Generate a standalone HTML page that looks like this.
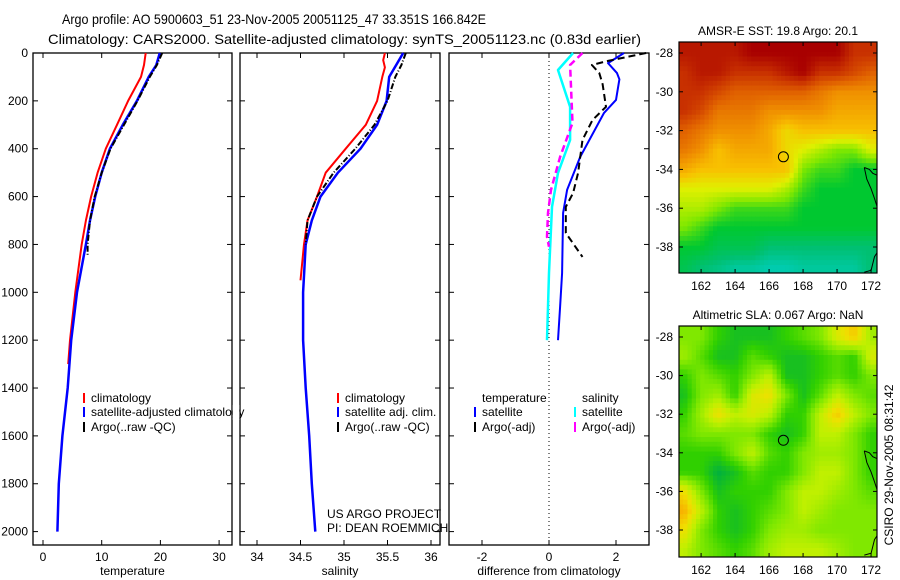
<!DOCTYPE html>
<html><head><meta charset="utf-8"><style>
body{margin:0;background:#fff;}
svg{display:block;font-family:"Liberation Sans",sans-serif;}
text{fill:#000;}
</style></head><body>
<svg id="fig" width="900" height="580" viewBox="0 0 900 580">
<text x="62" y="24" font-size="14" textLength="424" lengthAdjust="spacingAndGlyphs">Argo profile: AO 5900603_51 23-Nov-2005 20051125_47 33.351S 166.842E</text>
<text x="48" y="44" font-size="14" textLength="593" lengthAdjust="spacingAndGlyphs">Climatology: CARS2000. Satellite-adjusted climatology: synTS_20051123.nc (0.83d earlier)</text>
<g id="g"></g>
</svg>
<script>
// ---- profile data ----
const tempClimDepth=[0,50,100,200,300,400,500,600,700,800,1000,1200,1300];
const tempClim=[17.5,17.2,16.7,14.5,12.6,10.7,9.3,8.2,7.3,6.6,5.5,4.6,4.3];
const tempSatDepth=[0,50,100,200,300,400,500,600,700,800,1000,1200,1400,1600,1800,2000];
const tempSat=[19.9,19.3,18.0,16.0,13.6,11.4,10.0,8.9,8.0,7.3,5.8,4.8,4.2,3.3,2.7,2.45];
const tempArgoDepth=[0,50,100,200,300,400,500,600,700,800,850];
const tempArgo=[20.3,19.4,18.2,16.1,13.8,11.5,10.0,8.8,8.0,7.6,7.6];
const salClimDepth=[0,30,60,100,200,300,400,500,600,700,800,950];
const salClim=[35.47,35.45,35.47,35.44,35.38,35.25,35.02,34.79,34.69,34.58,34.54,34.5];
const salSatDepth=[0,50,100,200,300,400,500,600,700,800,1000,1200,1400,1600,1800,2000];
const salSat=[35.68,35.6,35.52,35.49,35.38,35.19,34.93,34.73,34.63,34.56,34.53,34.53,34.56,34.6,34.63,34.67];
const salArgoDepth=[0,50,100,200,300,400,500,600,700,800];
const salArgo=[35.71,35.66,35.59,35.5,35.35,35.13,34.88,34.69,34.58,34.56];
const dTSatDepth=[0,42,84,110,196,251,434,572,668,919,1060,1200];
const dTSat=[2.24,1.76,2.03,2.1,2.0,1.64,0.93,0.54,0.42,0.39,0.33,0.27];
const dSSatDepth=[0,71,225,363,501,643,919,1200];
const dSSat=[0.72,0.27,0.63,0.63,0.27,0.09,0.0,-0.06];
const dSArgoDepth=[0,50,292,434,572,668,768,810];
const dSArgo=[1.0,0.63,0.7,0.33,0.06,-0.03,-0.06,0];
const dTArgoDepth=[0,33,50,84,130,225,280,363,501,585,643,752,852];
const dTArgo=[2.9,1.76,1.28,1.5,1.6,1.7,1.3,1.0,0.87,0.72,0.5,0.5,1.0];
const depthTicks=[0,200,400,600,800,1000,1200,1400,1600,1800,2000];
const tempTicks=[0,10,20,30];
const salTicks=[34,34.5,35,35.5,36];
const diffTicks=[-2,0,2];
// ---- map data (rows lat -28..-39, cols lon 161..172) ----
const mapLons=[161,162,163,164,165,166,167,168,169,170,171,172];
const mapLats=[-28,-29,-30,-31,-32,-33,-34,-35,-36,-37,-38,-39];
const sstGrid=[
[8.5,8.5,8.5,8.5,9,9,9,9,9,9,8,8],
[8,8.5,8.5,8,8,8,8.5,9,8,8,7.5,7],
[8,8,7.5,7,7,7,7,7,6.5,6,6,6],
[8,7.5,6.5,6.5,6.5,6,6,6,6,5.5,5.5,5.5],
[7,6.5,6,6,6,5.5,4.5,5,5,5,5,5],
[6.5,6,5,5.5,5.5,5.5,4.5,4,3.5,3,3,4],
[5.5,5,5,5,5,5,5,3,2.5,2.5,2,2],
[4,4,4,4,4,4,3.5,2.5,2,2,2,2],
[3.5,3.5,3,2.5,2.5,2.5,2.5,2,2,2,2,2],
[3,2.5,2,2,2,2,2,2,2,2,2,2],
[2,2,1.5,1.5,1.5,1,1,1,1,1,1,1],
[1.5,1,0.8,0.5,0.5,0.3,0.3,0.5,0.5,0.5,0.5,1]];
const slaGrid=[
[2,2,1,0.5,0.5,0.5,1,1.5,2,3.5,4.5,2.5],
[2.5,1.5,0.5,0.5,1.5,1,0.5,0.5,1,1.5,1,3.5],
[1,2,1.5,1,2,3,0.5,0.5,1,1.5,1,2],
[0.5,2,2.5,1,3.5,4,2,0.5,1.5,3,2,1.5],
[1,2.5,4,3,3.5,3,1,1,3,4.5,3,2],
[1.5,2,2,2,2,1,0.5,1,3,3,2,1],
[1,1,1,2,3,1.5,1,2,2.5,2.5,2,1],
[1,1,0,0.5,1.5,1,1,2,3,3,2,1],
[4,2,0.5,1,1,1,2,3,3,2.5,2,1.5],
[5,3,1,0.5,1,1.5,2,3,2.5,2,2,2],
[4,2,1,0.5,1,2,2.5,2.5,2,2,2,2],
[3,2,1.5,1,1.5,2.5,3,3,3,2.5,2,2]];
const lonTicks=[162,164,166,168,170,172];
const latTicks=[-28,-30,-32,-34,-36,-38];
const floatLon=166.842, floatLat=-33.351;

const NS='http://www.w3.org/2000/svg';
const G=document.getElementById('g');
function mk(tag,attrs,parent){const e=document.createElementNS(NS,tag);for(const k in attrs)e.setAttribute(k,attrs[k]);(parent||G).appendChild(e);return e;}
function txt(x,y,s,size,anchor,parent){const t=mk('text',{x:x,y:y,'font-size':size||12,'text-anchor':anchor||'start'},parent);t.textContent=s;return t;}

const yTop=53, yBot=545;
const yD=d=>53+d*0.2393;
const panels=[
 {name:'temperature-panel',x0:33,x1:232,sx:v=>43+v*5.87,ticks:tempTicks,label:'temperature'},
 {name:'salinity-panel',x0:240,x1:440,sx:v=>257+(v-34)*87,ticks:salTicks,label:'salinity'},
 {name:'difference-panel',x0:449,x1:649,sx:v=>549+v*33.5,ticks:diffTicks,label:'difference from climatology'}];

panels.forEach((p,i)=>{
  const g=mk('g',{});
  
  
  const r=mk('rect',{x:p.x0,y:yTop,width:p.x1-p.x0,height:yBot-yTop,fill:'none',stroke:'#000','stroke-width':1.3},g);
  
  
  p.ticks.forEach(v=>{
    const x=p.sx(v);
    mk('line',{x1:x,y1:yBot,x2:x,y2:yBot-5,stroke:'#000'},g);
    mk('line',{x1:x,y1:yTop,x2:x,y2:yTop+5,stroke:'#000'},g);
    const t=txt(x,561,String(v),12,'middle',g);
    
    
  });
  depthTicks.forEach(d=>{
    const y=yD(d);
    mk('line',{x1:p.x0,y1:y,x2:p.x0+5,y2:y,stroke:'#000'},g);
    mk('line',{x1:p.x1,y1:y,x2:p.x1-5,y2:y,stroke:'#000'},g);
    if(i===0){const t=txt(28,y+4,String(d),12,'end',g);
      
      }
  });
  const xl=txt((p.x0+p.x1)/2,575,p.label,12,'middle',g);
  
  
});
function line(p,vals,depths,color,w,dash,name){
  const pts=vals.map((v,i)=>panels[p].sx(v).toFixed(1)+','+yD(depths[i]).toFixed(1)).join(' ');
  const e=mk('polyline',{points:pts,fill:'none',stroke:color,'stroke-width':w,'stroke-linejoin':'round'});
  if(dash)e.setAttribute('stroke-dasharray',dash);
  
  
}
const zl=mk('line',{x1:549,y1:yTop,x2:549,y2:yBot,stroke:'#000','stroke-dasharray':'1,3'});


line(0,tempClim,tempClimDepth,'#f00',2,null,'temp-climatology-line');
line(0,tempSat,tempSatDepth,'#00f',2.5,null,'temp-satellite-line');
line(0,tempArgo,tempArgoDepth,'#000',2,'6,2,1,2','temp-argo-line');
line(1,salClim,salClimDepth,'#f00',2,null,'sal-climatology-line');
line(1,salSat,salSatDepth,'#00f',2.5,null,'sal-satellite-line');
line(1,salArgo,salArgoDepth,'#000',2,'6,2,1,2','sal-argo-line');
line(2,dSSat,dSSatDepth,'#0ff',2.5,null,'diff-sal-satellite-line');
line(2,dSArgo,dSArgoDepth,'#f0f',2.5,'7,4','diff-sal-argo-line');
line(2,dTSat,dTSatDepth,'#00f',2,null,'diff-temp-satellite-line');
line(2,dTArgo,dTArgoDepth,'#000',2,'7,4','diff-temp-argo-line');

function legend(x,y,color,label,name){
  const g=mk('g',{});
  
  
  if(color)mk('line',{x1:x,y1:y-9,x2:x,y2:y+1,stroke:color,'stroke-width':2},g);
  txt(x+7,y,label,12,'start',g);
}
legend(84,402,'#f00','climatology','legend-temp-climatology');
legend(84,416,'#00f','satellite-adjusted climatology','legend-temp-satellite');
legend(84,431,'#000','Argo(..raw -QC)','legend-temp-argo');
legend(338,402,'#f00','climatology','legend-sal-climatology');
legend(338,416,'#00f','satellite adj. clim.','legend-sal-satellite');
legend(338,431,'#000','Argo(..raw -QC)','legend-sal-argo');
legend(475,402,null,'temperature','legend-temp-header');
legend(575,402,null,'salinity','legend-sal-header');
legend(475,416,'#00f','satellite','legend-diff-temp-satellite');
legend(575,416,'#0ff','satellite','legend-diff-sal-satellite');
legend(475,431,'#000','Argo(-adj)','legend-diff-temp-argo');
legend(575,431,'#f0f','Argo(-adj)','legend-diff-sal-argo');
const cv=mk('rect',{x:232.7,y:405,width:6.6,height:15,fill:'#fff'});


const c1=txt(327,518,'US ARGO PROJECT',12);


const c2=txt(327,532,'PI: DEAN ROEMMICH',12);



// ---- maps ----
const sstStops=['#00d0c8','#00c070','#00c830','#80e800','#e0f000','#f8c000','#f09000','#e06000','#c83000','#a80000'];
const slaStops=['#00b040','#30d000','#80e800','#c0f000','#f0e000','#f8b000'];
function hex(c){return [1,3,5].map(i=>parseInt(c.substr(i,2),16));}
function cmap(stops,v){v=Math.max(0,Math.min(stops.length-1,v));const i=Math.min(stops.length-2,Math.floor(v)),f=v-i;
  const a=hex(stops[i]),b=hex(stops[i+1]);return 'rgb('+a.map((x,k)=>Math.round(x+(b[k]-x)*f)).join(',')+')';}
function sample(grid,lon,lat){
  let c=Math.max(0,Math.min(11,lon-161)),r=Math.max(0,Math.min(11,-28-lat));
  const c0=Math.min(10,Math.floor(c)),r0=Math.min(10,Math.floor(r)),fc=c-c0,fr=r-r0;
  return grid[r0][c0]*(1-fc)*(1-fr)+grid[r0][c0+1]*fc*(1-fr)+grid[r0+1][c0]*(1-fc)*fr+grid[r0+1][c0+1]*fc*fr;}
function drawMap(o){
  const g=mk('g',{});
  
  
  const lonL=160.7,lonR=172.35;
  const px=lon=>o.x0+(lon-lonL)/(lonR-lonL)*(o.x1-o.x0);
  const py=lat=>o.yRef+(-28-lat)*o.sy;
  const latTop=-28+(o.yRef-o.y0)/o.sy, latBot=-28-(o.y1-o.yRef)/o.sy;
  const step=0.25;
  for(let lat=latTop;lat>latBot;lat-=step){
    for(let lon=lonL;lon<lonR;lon+=step){
      const v=sample(o.grid,lon+step/2,lat-step/2);
      const x=px(lon),y=py(lat);
      mk('rect',{x:x.toFixed(1),y:y.toFixed(1),width:(px(lon+step)-x+0.6).toFixed(1),height:(py(lat-step)-y+0.6).toFixed(1),fill:cmap(o.stops,v)},g);
    }
  }
  mk('rect',{x:o.x1,y:o.y0-2,width:20,height:o.y1-o.y0+4,fill:'#fff'},g);
  mk('rect',{x:o.x0-2,y:o.y1,width:o.x1-o.x0+4,height:12,fill:'#fff'},g);
  const coast=[[171.6,-33.9],[171.9,-34.0],[172.1,-34.2],[172.35,-34.3]];
  const coast2=[[171.6,-33.9],[171.75,-34.5],[172.0,-35.0],[172.2,-35.5],[172.35,-35.9]];
  [coast,coast2].forEach(cs=>{const c=mk('polyline',{points:cs.map(q=>px(q[0]).toFixed(1)+','+py(q[1]).toFixed(1)).join(' '),fill:'none',stroke:'#000','stroke-width':1},g);
    });
  const c3=mk('polyline',{points:[[171.6,o.bottomLat],[172.0,o.bottomLat+0.1],[172.2,o.bottomLat+0.8],[172.35,o.bottomLat+1.0]].map(q=>px(q[0]).toFixed(1)+','+py(q[1]).toFixed(1)).join(' '),fill:'none',stroke:'#000'},g);
  
  
  const fr=mk('rect',{x:o.x0,y:o.y0,width:o.x1-o.x0,height:o.y1-o.y0,fill:'none',stroke:'#000','stroke-width':1.2},g);
  
  
  lonTicks.forEach(l=>{const x=px(l);mk('line',{x1:x,y1:o.y0,x2:x,y2:o.y0+4,stroke:'#000'},g);mk('line',{x1:x,y1:o.y1,x2:x,y2:o.y1-4,stroke:'#000'},g);
    const t=txt(x,o.y1+17,String(l),12,'middle',g);});
  latTicks.forEach(l=>{const y=py(l);mk('line',{x1:o.x0,y1:y,x2:o.x0+4,y2:y,stroke:'#000'},g);mk('line',{x1:o.x1,y1:y,x2:o.x1-4,y2:y,stroke:'#000'},g);
    const t=txt(o.x0-6,y+4,String(l),12,'end',g);});
  const ci=mk('circle',{cx:px(floatLon),cy:py(floatLat),r:5,fill:'none',stroke:'#000','stroke-width':1},g);
  
  
  const tt=txt((o.x0+o.x1)/2,o.y0-7,o.title,12,'middle',g);
  
  
}
drawMap({name:'sst-map',grid:sstGrid,stops:sstStops,x0:679,x1:877,y0:42,y1:273,yRef:53,sy:19.4,bottomLat:-39.3,title:'AMSR-E SST: 19.8 Argo: 20.1'});
drawMap({name:'sla-map',grid:slaGrid,stops:slaStops,x0:679,x1:877,y0:326,y1:557,yRef:337,sy:19.3,bottomLat:-39.3,title:'Altimetric SLA: 0.067 Argo: NaN'});
const st=txt(0,0,'CSIRO 29-Nov-2005 08:31:42',12,'middle');
st.setAttribute('transform','translate(893,465) rotate(-90)');


</script>
</body></html>
